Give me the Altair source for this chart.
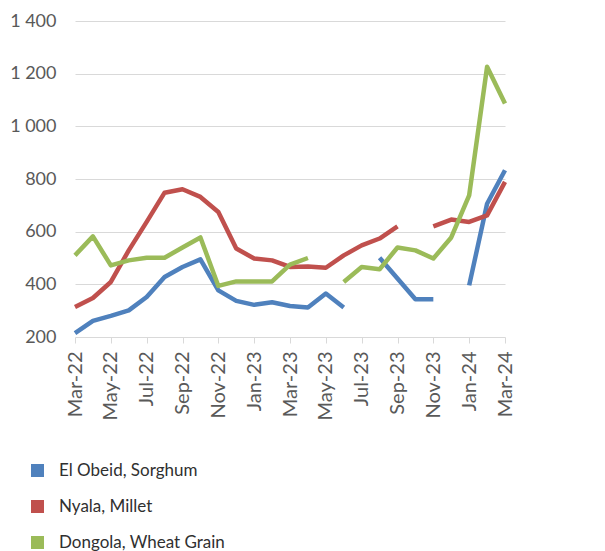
import altair as alt
import pandas as pd

months = ["Mar-22", "Apr-22", "May-22", "Jun-22", "Jul-22", "Aug-22", "Sep-22", "Oct-22",
          "Nov-22", "Dec-22", "Jan-23", "Feb-23", "Mar-23", "Apr-23", "May-23", "Jun-23",
          "Jul-23", "Aug-23", "Sep-23", "Oct-23", "Nov-23", "Dec-23", "Jan-24", "Feb-24", "Mar-24"]

series_names = ["El Obeid, Sorghum", "Nyala, Millet", "Dongola, Wheat Grain"]
series_colors = ["#4F81BD", "#C0504D", "#9BBB59"]

el_obeid = [215, 261, 280, 301, 352, 428, 466, 495, 377, 337, 322, 332, 318, 312, 365, 312,
            None, 501, 422, 343, 343, None, 396, 706, 833]
nyala = [314, 348, 409, 529, 637, 748, 761, 732, 675, 536, 498, 491, 466, 468, 463, 510,
         548, 574, 620, None, 620, 646, 637, 662, 789]
dongola = [510, 582, 472, 491, 501, 501, 540, 578, 394, 411, 411, 411, 475, 500, None, 409,
           466, 457, 540, 529, 498, 578, 738, 1226, 1087]

y_ticks = [200, 400, 600, 800, 1000, 1200, 1400]
x_tick_labels = months[::2]

rows = []
for name, vals in zip(series_names, [el_obeid, nyala, dongola]):
    seg = 0
    for m, v in zip(months, vals):
        if v is None:
            seg += 1
            continue
        rows.append({"month": m, "value": v, "series": name, "line_series": name,
                     "seg": f"{name}-{seg}"})
df = pd.DataFrame(rows)

font = "Lato"

x_enc = alt.X("month:O", sort=months,
              scale=alt.Scale(type="point", padding=0),
              axis=alt.Axis(title=None, values=x_tick_labels, labelAngle=-90,
                            labelFontSize=20, labelColor="#595959", labelFont=font,
                            tickColor="#D9D9D9", tickSize=6, domain=False,
                            labelPadding=8, grid=False))
y_enc = alt.Y("value:Q",
              scale=alt.Scale(domain=[200, 1400], nice=False, zero=False),
              axis=alt.Axis(title=None, values=y_ticks,
                            labelExpr="replace(format(datum.value, ',d'), ',', ' ')",
                            labelFontSize=18, labelColor="#595959", labelFont=font,
                            ticks=False, domain=False, gridColor="#D9D9D9",
                            labelPadding=19, minExtent=63, maxExtent=63))

base = alt.Chart(df)

lines = base.mark_line(strokeWidth=4.5, strokeJoin="round", strokeCap="butt").encode(
    x=x_enc, y=y_enc,
    stroke=alt.Stroke("line_series:N",
                      scale=alt.Scale(domain=series_names, range=series_colors),
                      legend=None),
    detail="seg:N",
)

legend_layer = base.mark_point(
    shape="square", filled=True, size=169, opacity=0
).encode(
    x=x_enc, y=y_enc,
    color=alt.Color("series:N", scale=alt.Scale(domain=series_names, range=series_colors),
                    legend=alt.Legend(title=None, orient="none", legendX=-46, legendY=441,
                                      direction="vertical", symbolType="square",
                                      symbolSize=169, symbolStrokeWidth=0,
                                      symbolOpacity=1, labelLimit=400,
                                      labelFontSize=17, labelFont=font, labelColor="#303030",
                                      rowPadding=18, labelOffset=13)),
)

chart = alt.layer(legend_layer, lines).properties(
    width=430, height=316,
    padding={"left": 1, "top": 4, "right": 5, "bottom": 0},
).configure_view(stroke=None)

chart.save("out.html", embed_options={"renderer": "svg", "actions": False})
